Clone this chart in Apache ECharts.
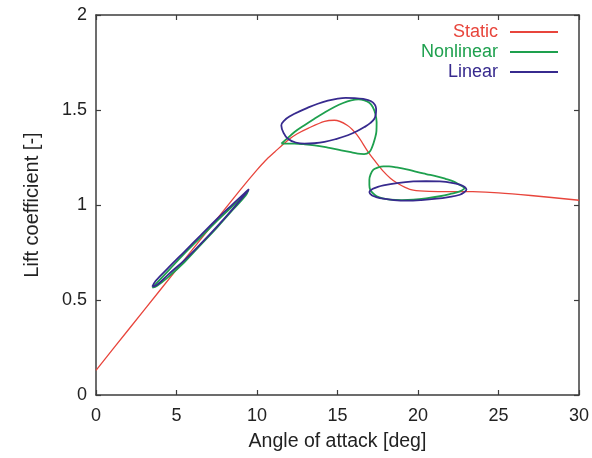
<!DOCTYPE html>
<html>
<head>
<meta charset="utf-8">
<script src="https://cdn.jsdelivr.net/npm/echarts@6/dist/echarts.min.js"></script>
<style>
html,body{margin:0;padding:0;background:#fff;}
#chart{width:592px;height:458px;}
</style>
</head>
<body>
<div id="chart"></div>
<script>
// Tick labels / axis ranges
const xTicks = [0, 5, 10, 15, 20, 25, 30];
const yTicks = [0, 0.5, 1, 1.5, 2];

// Static lift curve [angle, Cl]
const staticCurve = [[0,0.13],[2,0.342],[4,0.554],[6,0.766],[8,0.978],[9,1.084],[10,1.185],[10.5,1.232],[11.1,1.279],[11.9,1.34],[12.5,1.375],[13.2,1.405],[14.2,1.44],[14.8,1.446],[15.6,1.42],[16.2,1.37],[16.9,1.28],[17.3,1.235],[17.85,1.177],[18.3,1.14],[18.7,1.116],[19.2,1.093],[19.7,1.078],[20.7,1.072],[23.4,1.07],[25,1.064],[27,1.05],[30,1.025]];

// Nonlinear hysteresis loops
const nonlinearLoop1 = [[3.5,0.565],[4.5,0.655],[5.5,0.745],[6.5,0.83],[7.5,0.915],[8.5,0.995],[9.2,1.05],[9.45,1.075],[9.3,1.05],[8.5,0.975],[7.5,0.88],[6.5,0.79],[5.5,0.7],[4.5,0.622],[3.8,0.575],[3.5,0.565]];
const nonlinearLoop2 = [[11.51,1.323],[11.9,1.352],[12.33,1.384],[12.95,1.42],[13.57,1.454],[14.2,1.487],[14.81,1.516],[15.35,1.537],[15.85,1.551],[16.3,1.556],[16.67,1.551],[16.98,1.538],[17.19,1.516],[17.35,1.48],[17.43,1.437],[17.42,1.39],[17.32,1.349],[17.15,1.305],[16.98,1.279],[16.65,1.268],[16.26,1.27],[15.75,1.279],[15.23,1.288],[14.4,1.302],[13.57,1.314],[12.9,1.32],[12.33,1.323],[11.9,1.323],[11.51,1.323]];
const nonlinearLoop3 = [[22.92,1.089],[22.6,1.105],[22.19,1.124],[21.7,1.138],[21.16,1.151],[20.5,1.163],[19.92,1.174],[19.3,1.188],[18.68,1.198],[18.2,1.203],[17.85,1.203],[17.5,1.197],[17.23,1.186],[17.05,1.16],[16.98,1.133],[16.98,1.105],[17.03,1.081],[17.2,1.062],[17.44,1.046],[17.8,1.035],[18.27,1.028],[19,1.026],[19.71,1.028],[20.5,1.035],[21.36,1.046],[22.0,1.058],[22.6,1.072],[22.92,1.089]];

// Linear hysteresis loops
const linearLoop1 = [[3.5,0.57],[3.7,0.6],[4.5,0.67],[5.5,0.755],[6.5,0.84],[7.5,0.925],[8.5,1.005],[9.2,1.06],[9.5,1.083],[9.3,1.06],[8.5,0.98],[7.5,0.885],[6.5,0.795],[5.5,0.71],[4.5,0.635],[3.8,0.58],[3.5,0.57]];
const linearLoop2 = [[12.54,1.489],[13.1,1.51],[13.78,1.533],[14.4,1.549],[15.02,1.56],[15.5,1.564],[16.05,1.563],[16.6,1.558],[17.09,1.546],[17.32,1.528],[17.4,1.507],[17.38,1.48],[17.29,1.454],[17.05,1.432],[16.67,1.41],[16.2,1.388],[15.64,1.367],[14.9,1.347],[14.19,1.332],[13.55,1.325],[12.95,1.323],[12.4,1.329],[11.92,1.349],[11.65,1.38],[11.51,1.419],[11.71,1.446],[12.1,1.47],[12.54,1.489]];
const linearLoop3 = [[20.5,1.126],[21.36,1.124],[22.1,1.117],[22.6,1.107],[22.9,1.095],[23.01,1.081],[22.85,1.066],[22.6,1.054],[21.9,1.042],[21.16,1.033],[20.2,1.026],[19.3,1.023],[18.5,1.026],[17.85,1.033],[17.4,1.042],[17.13,1.051],[16.98,1.068],[17.2,1.085],[17.5,1.095],[17.85,1.103],[18.7,1.115],[19.71,1.124],[20.5,1.126]];

const RED = '#e8453c', GREEN = '#1ea04e', BLUE = '#372a8e';
const FONT = '"Liberation Sans", Arial, sans-serif';
const AX = '#3c3c3c';

const chart = echarts.init(document.getElementById('chart'), null, {renderer: 'canvas'});

function loopSeries(name, data, color, z) {
  return {
    name, type: 'line', data, symbol: 'none', smooth: 0.4, z,
    lineStyle: {color, width: 1.8}, itemStyle: {color},
    animation: false, silent: true
  };
}

const axisCommon = {
  type: 'value',
  axisLine: {show: true, onZero: false, lineStyle: {color: AX, width: 1.5}},
  axisTick: {show: true, inside: true, length: 5, lineStyle: {color: AX, width: 1.2}},
  splitLine: {show: false}
};

chart.setOption({
  animation: false,
  backgroundColor: '#fff',
  grid: {left: 96, right: 12, top: 15, bottom: 63, containLabel: false},
  xAxis: [
    Object.assign({}, axisCommon, {
      min: xTicks[0], max: xTicks[xTicks.length - 1], interval: 5, position: 'bottom',
      name: 'Angle of attack [deg]', nameLocation: 'middle', nameGap: 37,
      nameTextStyle: {fontFamily: FONT, fontSize: 19.5, color: '#222'},
      axisLabel: {fontFamily: FONT, fontSize: 18, color: '#222', margin: 12}
    }),
    Object.assign({}, axisCommon, {
      min: xTicks[0], max: xTicks[xTicks.length - 1], interval: 5, position: 'top',
      axisLabel: {show: false}
    })
  ],
  yAxis: [
    Object.assign({}, axisCommon, {
      min: yTicks[0], max: yTicks[yTicks.length - 1], interval: 0.5, position: 'left',
      name: 'Lift coefficient [-]', nameLocation: 'middle', nameGap: 54,
      nameTextStyle: {fontFamily: FONT, fontSize: 20, color: '#222'},
      axisLabel: {fontFamily: FONT, fontSize: 18, color: '#222', margin: 9}
    }),
    Object.assign({}, axisCommon, {
      min: yTicks[0], max: yTicks[yTicks.length - 1], interval: 0.5, position: 'right',
      axisLabel: {show: false}
    })
  ],
  legend: {
    orient: 'vertical', align: 'right', right: 29, top: 17,
    icon: 'rect', itemWidth: 48, itemHeight: 2, itemGap: 0,
    textStyle: {fontFamily: FONT, fontSize: 18, lineHeight: 20, padding: [0, 7, 0, 0]},
    data: [
      {name: 'Static', textStyle: {color: RED}},
      {name: 'Nonlinear', textStyle: {color: GREEN}},
      {name: 'Linear', textStyle: {color: BLUE}}
    ],
    selectedMode: false
  },
  series: [
    {name: 'Static', type: 'line', data: staticCurve, symbol: 'none', smooth: 0.3, z: 2,
     lineStyle: {color: RED, width: 1.3}, itemStyle: {color: RED}, silent: true},
    loopSeries('Nonlinear', nonlinearLoop1, GREEN, 3),
    loopSeries('Nonlinear', nonlinearLoop2, GREEN, 3),
    loopSeries('Nonlinear', nonlinearLoop3, GREEN, 3),
    loopSeries('Linear', linearLoop1, BLUE, 4),
    loopSeries('Linear', linearLoop2, BLUE, 4),
    loopSeries('Linear', linearLoop3, BLUE, 4)
  ]
});
</script>
</body>
</html>
